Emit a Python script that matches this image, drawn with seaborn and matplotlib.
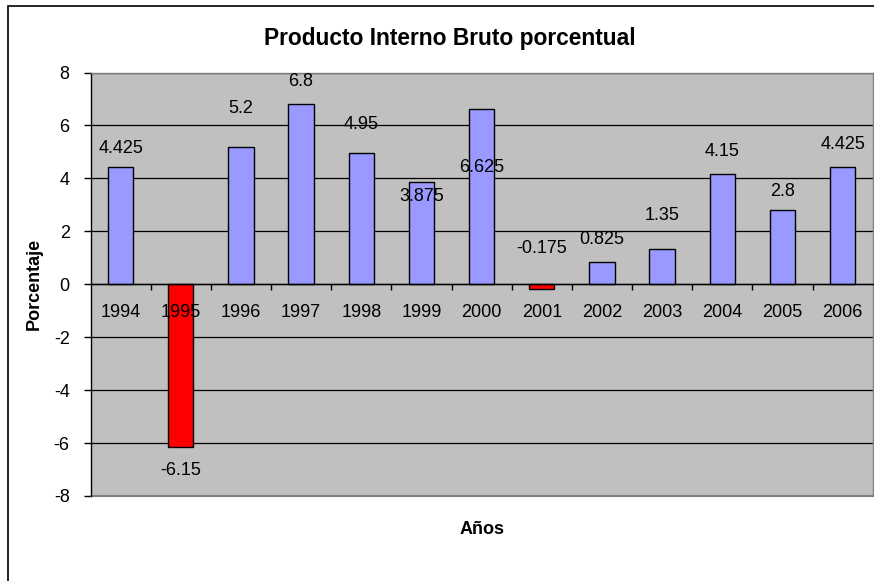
import numpy as np
import pandas as pd
import matplotlib
matplotlib.use("Agg")
import matplotlib.pyplot as plt
from matplotlib.patches import Rectangle
from matplotlib.ticker import MultipleLocator, FixedLocator
import seaborn as sns

# Datos del grafico
years = ["1994", "1995", "1996", "1997", "1998", "1999", "2000",
         "2001", "2002", "2003", "2004", "2005", "2006"]
pib = [4.425, -6.15, 5.2, 6.8, 4.95, 3.875, 6.625,
       -0.175, 0.825, 1.35, 4.15, 2.8, 4.425]
# altura de cada etiqueta (como en el original, colocadas a mano)
label_y = [5.14, -7.05, 6.65, 7.67, 6.02, 3.31, 4.41,
           1.36, 1.70, 2.58, 5.0, 3.52, 5.29]

sns.set_theme(style="white")
plt.rcParams['font.family'] = ['Liberation Sans', 'DejaVu Sans']
plt.rcParams['axes.unicode_minus'] = False
plt.rcParams['text.color'] = 'black'
plt.rcParams['axes.labelcolor'] = 'black'
plt.rcParams['xtick.color'] = 'black'
plt.rcParams['ytick.color'] = 'black'

df = pd.DataFrame({"anio": years, "pib": pib})
colores = ["#FF0000" if v < 0 else "#9999FF" for v in pib]

fig = plt.figure(figsize=(8.74, 5.81), dpi=100)
ax = fig.add_axes([90.5 / 874, 1 - 496 / 581, (872.7 - 90.5) / 874, (496 - 72.5) / 581])
ax.set_facecolor("#C0C0C0")

# marco exterior del grafico
fig.patches.append(Rectangle((8 / 874, -0.2), 1.2, 1.2 - 6 / 581,
                             transform=fig.transFigure, fill=False,
                             edgecolor="black", linewidth=1.2))

ax.set_ylim(-8, 8)
ax.yaxis.set_major_locator(MultipleLocator(2))
ax.grid(axis="y", color="black", linewidth=0.9)
ax.set_axisbelow(True)

sns.barplot(data=df, x="anio", y="pib", hue="anio", palette=colores,
            legend=False, width=0.42, edgecolor="black", linewidth=1.0,
            saturation=1, ax=ax)
ax.set_xlim(-0.5, len(years) - 0.5)

for i, v in enumerate(pib):
    ax.text(i, label_y[i], f"{v:g}", ha="center", va="center", fontsize=13)

# etiquetas de los anios por encima de las barras (como en Excel)
for i, yr in enumerate(years):
    ax.annotate(yr, xy=(i, 0), xytext=(0, -20.5), textcoords="offset points",
                ha="center", va="center", fontsize=13, zorder=5)
ax.set_xticklabels([])

# eje x en cero con marcas entre categorias
ax.spines["bottom"].set_position(("data", 0))
ax.spines["bottom"].set_color("black")
ax.spines["bottom"].set_linewidth(1.0)
ax.spines["left"].set_color("black")
ax.spines["left"].set_linewidth(1.0)
for s in ["top", "right"]:
    ax.spines[s].set_color("#808080")
    ax.spines[s].set_linewidth(1.0)
ax.axhline(-8, color="#808080", linewidth=1.5, clip_on=False)

ax.xaxis.set_minor_locator(FixedLocator(np.arange(0.5, len(years) - 1, 1)))
ax.tick_params(axis="x", which="major", length=0)
ax.tick_params(axis="x", which="minor", bottom=True, direction="out",
               length=4, width=1, color="black")
ax.tick_params(axis="y", left=True, length=5, width=1, color="black",
               pad=10, labelsize=13)

ax.set_xlabel("Años", fontsize=13, fontweight="bold")
ax.xaxis.set_label_coords(0.5, -0.058)
ax.set_ylabel("Porcentaje", fontsize=13, fontweight="bold")
ax.yaxis.set_label_coords(-0.0607, 0.5)

fig.text(450 / 874, 1 - 38 / 581, "Producto Interno Bruto porcentual",
         ha="center", va="center", fontsize=16.4, fontweight="bold")

fig.savefig("out.png", dpi=100)
